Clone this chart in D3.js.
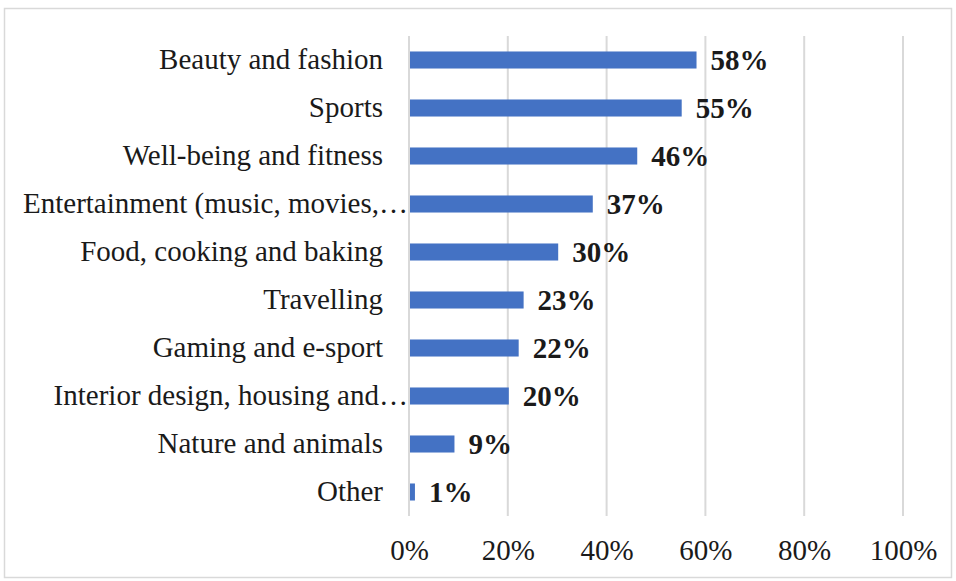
<!DOCTYPE html>
<html>
<head>
<meta charset="utf-8">
<script src="https://cdn.jsdelivr.net/npm/d3@7"></script>
<style>
  html, body { margin: 0; padding: 0; background: #fff; }
  svg { display: block; }
</style>
</head>
<body>
<svg id="chart" width="956" height="581"></svg>
<script>
// Share of respondents by content interest
const categories = [
  "Beauty and fashion",
  "Sports",
  "Well-being and fitness",
  "Entertainment (music, movies,\u2026",
  "Food, cooking and baking",
  "Travelling",
  "Gaming and e-sport",
  "Interior design, housing and\u2026",
  "Nature and animals",
  "Other"
];
const values = [58, 55, 46, 37, 30, 23, 22, 20, 9, 1];
const tickValues = [0, 20, 40, 60, 80, 100];

const svg = d3.select("#chart");
const W = 956, H = 581;
const plot = { left: 409, right: 903, top: 36, bottom: 516 };
const font = "'Liberation Serif', 'Times New Roman', serif";

// chart frame
svg.append("rect")
  .attr("x", 4.5).attr("y", 8.5)
  .attr("width", W - 9).attr("height", H - 12)
  .attr("fill", "#fff")
  .attr("stroke", "#d9d9d9")
  .attr("stroke-width", 1.5);

const x = d3.scaleLinear().domain([0, 100]).range([plot.left, plot.right]);
const y = d3.scaleBand().domain(categories).range([plot.top, plot.bottom]).paddingInner(0.645).paddingOuter(0.3225);

// vertical gridlines
svg.append("g")
  .selectAll("line")
  .data(tickValues)
  .join("line")
  .attr("x1", d => x(d)).attr("x2", d => x(d))
  .attr("y1", plot.top).attr("y2", plot.bottom)
  .attr("stroke", "#d9d9d9")
  .attr("stroke-width", 2);

// x axis tick labels
const xAxis = d3.axisBottom(x).tickValues(tickValues).tickSize(0).tickPadding(0).tickFormat(d => d + "%");
const gx = svg.append("g").attr("transform", `translate(0, ${plot.bottom + 23})`).call(xAxis);
gx.select(".domain").remove();
gx.selectAll("text")
  .attr("font-family", font)
  .attr("font-size", 29)
  .attr("fill", "#1a1a1a");

// category labels (truncated names sit a little further right, as the ellipsis overhangs)
const yAxis = d3.axisLeft(y).tickSize(0).tickPadding(0);
const gy = svg.append("g").attr("transform", `translate(${plot.left - 26}, 0)`).call(yAxis);
gy.select(".domain").remove();
gy.selectAll("text")
  .attr("font-family", font)
  .attr("font-size", 29)
  .attr("fill", "#1a1a1a")
  .attr("dx", d => d.endsWith("\u2026") ? 25 : 0);

// bars
svg.append("g")
  .selectAll("rect")
  .data(values)
  .join("rect")
  .attr("x", x(0) + 1)
  .attr("y", (d, i) => y(categories[i]))
  .attr("width", d => x(d) - x(0))
  .attr("height", y.bandwidth())
  .attr("fill", "#4472c4");

// value labels
svg.append("g")
  .selectAll("text")
  .data(values)
  .join("text")
  .attr("x", d => x(d) + 15)
  .attr("y", (d, i) => y(categories[i]) + y.bandwidth() / 2)
  .attr("dy", "0.36em")
  .attr("font-family", font)
  .attr("font-size", 29)
  .attr("font-weight", "bold")
  .attr("fill", "#1a1a1a")
  .text(d => d + "%");
</script>
</body>
</html>
